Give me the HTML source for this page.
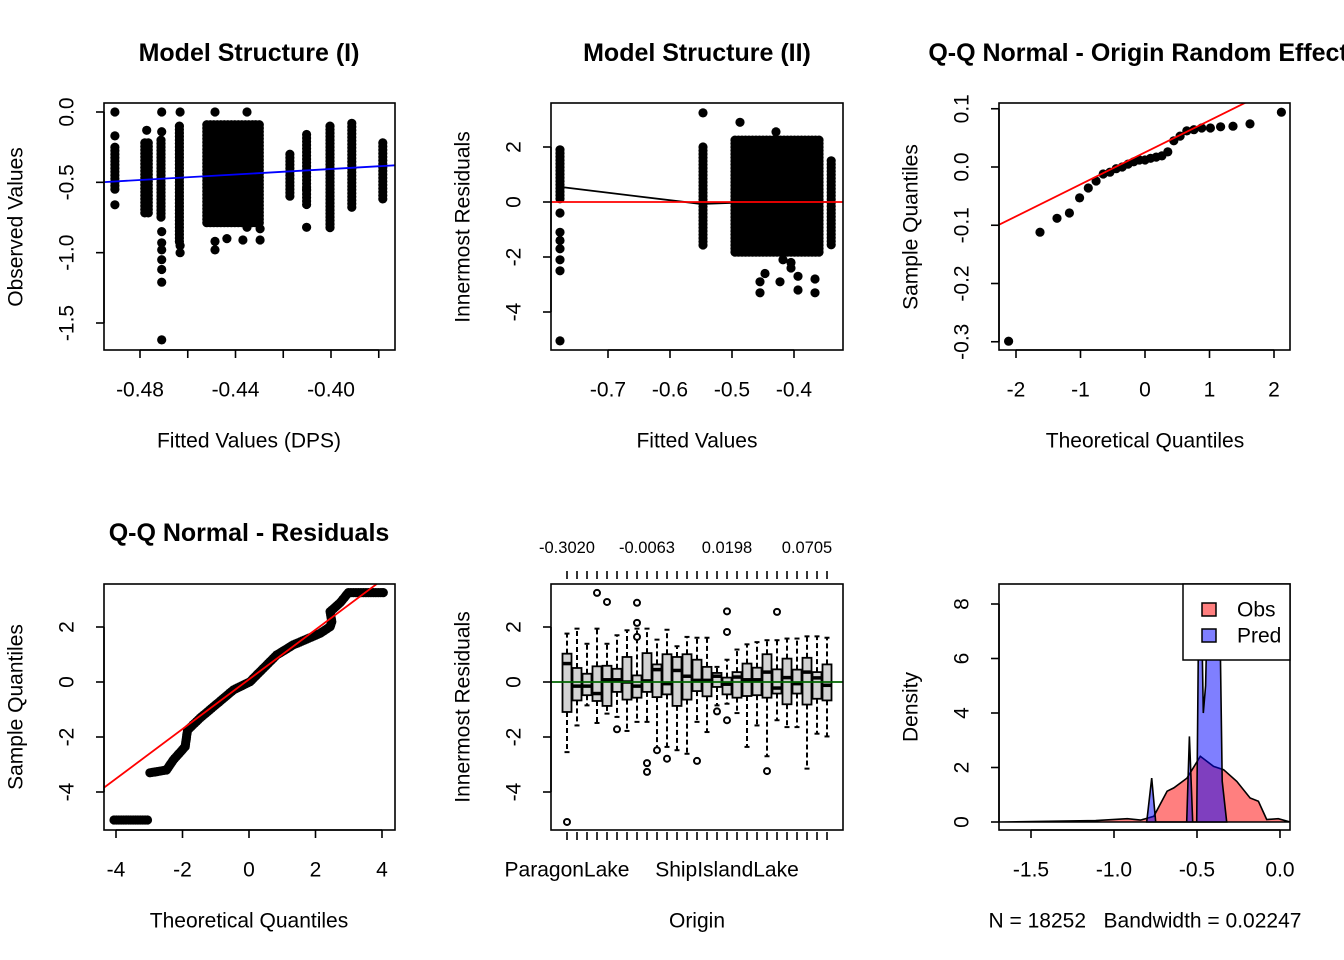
<!DOCTYPE html>
<html><head><meta charset="utf-8"><title>Model diagnostics</title>
<style>
html,body{margin:0;padding:0;background:#fff;}
svg{display:block;font-family:"Liberation Sans",Arial,sans-serif;}
text{fill:#000;}
</style></head>
<body>
<svg id="fig" width="1344" height="960" viewBox="0 0 1344 960" xmlns="http://www.w3.org/2000/svg">
<defs>
<clipPath id="c1"><rect x="104" y="103" width="291" height="247"/></clipPath>
<clipPath id="c2"><rect x="551" y="103" width="292" height="247"/></clipPath>
<clipPath id="c3"><rect x="999" y="103" width="291" height="247"/></clipPath>
<clipPath id="c4"><rect x="104" y="584" width="291" height="246"/></clipPath>
<clipPath id="c5"><rect x="551" y="584" width="292" height="246"/></clipPath>
<clipPath id="c6"><rect x="999" y="584" width="291" height="246"/></clipPath>
<clipPath id="cfig"><rect x="0" y="0" width="1344" height="960"/></clipPath>
</defs>
</svg>
<script>
// ---------- Panel 1 data: Observed vs fitted ----------
const p1ColXLo = [-0.4905,-0.4780,-0.4712,-0.4635,-0.4520,-0.4172,-0.4102,-0.4004,-0.3913,-0.3783];
const p1ColXHi = [-0.4905,-0.4765,-0.4706,-0.4628,-0.4287,-0.4172,-0.4102,-0.4004,-0.3913,-0.3783];
const p1ColYLo = [-0.55,-0.73,-0.77,-0.93,-0.79,-0.60,-0.67,-0.84,-0.70,-0.63];
const p1ColYHi = [-0.25,-0.22,-0.20,-0.10,-0.09,-0.30,-0.16,-0.10,-0.08,-0.22];
const p1OutX = [-0.4905,-0.4905,-0.4905,-0.4772,-0.4709,-0.4709,-0.4709,-0.4709,-0.4709,-0.4709,-0.4709,-0.4709,-0.4709,-0.4632,-0.4632,-0.4632,-0.4486,-0.4352,-0.4486,-0.4486,-0.4436,-0.4369,-0.4297,-0.4352,-0.4297,-0.4102,-0.4102];
const p1OutY = [0,-0.17,-0.66,-0.13,0,-0.14,-0.85,-0.93,-0.98,-1.05,-1.12,-1.21,-1.62,0,-1.0,-0.95,0,0,-0.98,-0.92,-0.90,-0.91,-0.91,-0.82,-0.83,-0.82,-0.55];
const p1Intercept = -0.0141, p1Slope = 0.978;
const p1XTicks = [-0.48,-0.46,-0.44,-0.42,-0.40,-0.38];
const p1XLabels = ["-0.48","","-0.44","","-0.40",""];
const p1YTicks = [0,-0.5,-1.0,-1.5];
const p1YLabels = ["0.0","-0.5","-1.0","-1.5"];

// ---------- Panel 2 data: residuals vs fitted ----------
const p2ColXLo = [-0.7774,-0.5468,-0.4952,-0.3400];
const p2ColXHi = [-0.7774,-0.5468,-0.3560,-0.3400];
const p2ColYLo = [0.07,-1.6,-1.85,-1.6];
const p2ColYHi = [1.9,2.0,2.25,1.5];
const p2OutX = [-0.7774,-0.7774,-0.7774,-0.7774,-0.7774,-0.7774,-0.7774,-0.5468,-0.4871,-0.4290,-0.4468,-0.4548,-0.4548,-0.4226,-0.3935,-0.3935,-0.3661,-0.3661,-0.4177,-0.4048,-0.4048];
const p2OutY = [-0.4,-1.1,-1.4,-1.7,-2.1,-2.5,-5.05,3.24,2.9,2.55,-2.6,-3.3,-2.9,-2.9,-3.2,-2.7,-3.3,-2.8,-2.1,-2.4,-2.2];
const p2LoessX = [-0.7774,-0.65,-0.55,-0.50,-0.45,-0.40,-0.34];
const p2LoessY = [0.55,0.20,-0.07,-0.03,-0.02,0.0,0.0];
const p2XTicks = [-0.7,-0.6,-0.5,-0.4];
const p2XLabels = ["-0.7","-0.6","-0.5","-0.4"];
const p2YTicks = [2,0,-2,-4];
const p2YLabels = ["2","0","-2","-4"];

// ---------- Panel 3 data: QQ of random effects ----------
const p3Sample = [-0.299,-0.112,-0.088,-0.079,-0.053,-0.036,-0.024,-0.012,-0.009,-0.003,0,0.005,0.009,0.012,0.012,0.015,0.017,0.019,0.026,0.045,0.053,0.062,0.064,0.067,0.067,0.069,0.070,0.074,0.094];
const p3XTicks = [-2,-1,0,1,2];
const p3XLabels = ["-2","-1","0","1","2"];
const p3YTicks = [0.1,0.0,-0.1,-0.2,-0.3];
const p3YLabels = ["0.1","0.0","-0.1","-0.2","-0.3"];

// ---------- Panel 4 data: QQ of residuals ----------
const p4TheoKnots = [-4.06,-2.98,-2.98,-2.48,-2.28,-1.92,-1.85,-1.47,-1.07,-0.47,0.03,0.83,1.33,2.14,2.44,2.49,2.44,2.74,2.99,4.04];
const p4SampKnots = [-5.02,-5.02,-3.30,-3.20,-2.84,-2.35,-1.75,-1.31,-0.90,-0.29,0.01,0.98,1.35,1.77,2.01,2.19,2.56,2.88,3.25,3.25];
const p4LineIntercept = 0.096, p4LineSlope = 0.903;
const p4XTicks = [-4,-2,0,2,4];
const p4XLabels = ["-4","-2","0","2","4"];
const p4YTicks = [2,0,-2,-4];
const p4YLabels = ["2","0","-2","-4"];

// ---------- Panel 5 data: boxplots by origin ----------
const p5WhiskHi = [1.76,1.94,1.39,1.94,1.39,1.70,1.88,1.94,1.94,1.54,1.90,1.30,1.64,1.61,1.61,0.55,0.81,1.18,1.37,1.45,1.52,1.52,1.58,1.58,1.66,1.66,1.61];
const p5Q3 = [1.03,0.51,0.30,0.57,0.59,0.48,0.91,0.24,1.05,0.64,1.01,0.91,1.01,0.81,0.55,0.33,0.16,0.36,0.67,0.52,1.01,0.46,0.85,0.45,0.88,0.36,0.64];
const p5Median = [0.67,-0.15,-0.15,-0.42,0.08,0.08,0.0,-0.15,0.04,0.45,-0.06,0.42,0.21,0.06,0.06,0.21,-0.08,0.18,0.08,0.08,0.36,-0.22,0.16,-0.06,0.36,0.15,-0.12];
const p5Q1 = [-1.09,-0.67,-0.48,-0.69,-0.87,-0.36,-0.64,-0.57,-0.36,-0.55,-0.45,-0.87,-0.64,-0.33,-0.52,-0.18,-0.45,-0.57,-0.51,-0.48,-0.57,-0.42,-0.81,-0.42,-0.82,-0.61,-0.67];
const p5WhiskLo = [-2.55,-1.58,-0.85,-1.49,-1.15,-1.27,-1.78,-1.45,-1.45,-2.42,-2.36,-2.48,-2.61,-1.45,-1.82,-0.85,-0.79,-1.13,-2.36,-1.58,-2.70,-1.39,-1.64,-1.64,-3.15,-1.88,-1.98];
const p5OutIdx = [0,3,4,5,7,7,7,8,8,9,10,13,15,16,16,16,20,21];
const p5OutVal = [-5.09,3.24,2.91,-1.72,2.88,2.15,1.64,-2.95,-3.27,-2.48,-2.79,-2.87,-1.07,2.57,1.82,-1.39,-3.24,2.55];
const p5TopLabelIdx = [0,8,16,24];
const p5TopLabels = ["-0.3020","-0.0063","0.0198","0.0705"];
const p5BottomLabelIdx = [0,16];
const p5BottomLabels = ["ParagonLake","ShipIslandLake"];
const p5YTicks = [2,0,-2,-4];
const p5YLabels = ["2","0","-2","-4"];

// ---------- Panel 6 data: densities ----------
const p6ObsX = [-1.69,-1.11,-0.92,-0.84,-0.76,-0.68,-0.64,-0.56,-0.48,-0.40,-0.34,-0.26,-0.18,-0.13,-0.08,-0.01,0.06];
const p6ObsY = [0,0.05,0.12,0.07,0.21,1.13,1.25,1.61,2.41,2.04,1.92,1.49,0.88,0.76,0.09,0.12,0];
const p6PredX = [-0.803,-0.773,-0.749,-0.562,-0.546,-0.526,-0.502,-0.488,-0.476,-0.462,-0.448,-0.432,-0.367,-0.348,-0.321];
const p6PredY = [0,1.61,0,0,3.14,0,0,9.0,9.0,4.0,5.0,9.5,9.5,1.5,0];
const p6XTicks = [-1.5,-1.0,-0.5,0.0];
const p6XLabels = ["-1.5","-1.0","-0.5","0.0"];
const p6YTicks = [0,2,4,6,8];
const p6YLabels = ["0","2","4","6","8"];

// ---------- helpers ----------
const NS = "http://www.w3.org/2000/svg";
const svg = document.getElementById('fig');
const FS = 21, FT = 25;
function mk(tag, attrs, parent){
  const e = document.createElementNS(NS, tag);
  for (const k in attrs) e.setAttribute(k, attrs[k]);
  (parent || svg).appendChild(e);
  return e;
}
function txt(parent, x, y, s, size, extra){
  const t = mk('text', Object.assign({x:x, y:y, 'font-size':size, 'text-anchor':'middle', 'dominant-baseline':'central'}, extra||{}), parent);
  t.textContent = s;
  return t;
}
function lin(v0, v1, p0, p1){ return v => p0 + (v - v0) * (p1 - p0) / (v1 - v0); }

function frame(g, x, y, w, h){
  const r = mk('rect', {x:x, y:y, width:w, height:h, fill:'none', stroke:'#000', 'stroke-width':1.6}, g);
  
  
}
function xAxis(g, ticks, labels, sx, yLine, labelY){
  const a = mk('g', {}, g);
  
  
  mk('line', {x1:sx(ticks[0]), x2:sx(ticks[ticks.length-1]), y1:yLine, y2:yLine, stroke:'#000','stroke-width':1.6}, a);
  ticks.forEach((t,i) => {
    const tk = mk('line', {x1:sx(t), x2:sx(t), y1:yLine, y2:yLine+8, stroke:'#000','stroke-width':1.6}, a);
    
    
    if (labels[i]) {
      const l = txt(a, sx(t), labelY, labels[i], FS);
      
      
    }
  });
}
function yAxis(g, ticks, labels, sy, xLine, labelX){
  const a = mk('g', {}, g);
  
  
  mk('line', {x1:xLine, x2:xLine, y1:sy(ticks[0]), y2:sy(ticks[ticks.length-1]), stroke:'#000','stroke-width':1.6}, a);
  ticks.forEach((t,i) => {
    const tk = mk('line', {x1:xLine-8, x2:xLine, y1:sy(t), y2:sy(t), stroke:'#000','stroke-width':1.6}, a);
    
    
    const l = txt(a, labelX, sy(t), labels[i], FS, {transform:'rotate(-90 '+labelX+' '+sy(t)+')'});
    
    
  });
}
function titles(g, cx, ty, title, xlab, xly, ylab, ylx, cy){
  if (title) {
    const t = txt(g, cx, ty, title, FT, {'font-weight':'bold'});
    
    
  }
  const xl = txt(g, cx, xly, xlab, FS);
  
  
  if (ylab) {
    const yl = txt(g, ylx, cy, ylab, FS, {transform:'rotate(-90 '+ylx+' '+cy+')'});
    
    
  }
}
function dot(g, x, y){
  const c = mk('circle', {cx:x.toFixed(1), cy:y.toFixed(1), r:4.6, fill:'#000'}, g);
  
  
}
function columns(g, xLo, xHi, yLo, yHi, sx, sy){
  for (let i = 0; i < xLo.length; i++){
    const x0 = sx(xLo[i]), x1 = sx(xHi[i]);
    const ya = sy(yHi[i]), yb = sy(yLo[i]);
    for (let x = x0; x <= x1 + 0.01; x += 3.5){
      for (let y = ya; y <= yb + 0.01; y += 3.5) dot(g, x, y);
      if (x1 - x0 < 0.5) break;
    }
  }
}

// ---------- Panel 1 ----------
(function(){
  const g = mk('g', {});
  
  
  const sx = lin(-0.48, -0.40, 140, 331), sy = lin(0, -1.5, 112, 323);
  const pts = mk('g', {'clip-path':'url(#c1)'}, g);
  
  
  columns(pts, p1ColXLo, p1ColXHi, p1ColYLo, p1ColYHi, sx, sy);
  p1OutX.forEach((x,i) => dot(pts, sx(x), sy(p1OutY[i])));
  const xa = -0.4968, xb = -0.3711;
  const ln = mk('line', {x1:sx(xa), y1:sy(p1Intercept + p1Slope*xa), x2:sx(xb), y2:sy(p1Intercept + p1Slope*xb), stroke:'#0000ff', 'stroke-width':1.8}, pts);
  
  
  frame(g, 104, 103, 291, 247);
  xAxis(g, p1XTicks, p1XLabels, sx, 350, 390);
  yAxis(g, p1YTicks, p1YLabels, sy, 104, 67);
  titles(g, 249, 53, 'Model Structure (I)', 'Fitted Values (DPS)', 441, 'Observed Values', 16, 227);
})();

// ---------- Panel 2 ----------
(function(){
  const g = mk('g', {});
  
  
  const sx = lin(-0.7, -0.4, 608, 794), sy = lin(0, 2, 202, 147);
  const pts = mk('g', {'clip-path':'url(#c2)'}, g);
  
  
  columns(pts, p2ColXLo, p2ColXHi, p2ColYLo, p2ColYHi, sx, sy);
  p2OutX.forEach((x,i) => dot(pts, sx(x), sy(p2OutY[i])));
  const lo = mk('polyline', {points:p2LoessX.map((x,i)=>sx(x)+','+sy(p2LoessY[i])).join(' '), fill:'none', stroke:'#000', 'stroke-width':1.8}, pts);
  
  
  const zl = mk('line', {x1:551, x2:843, y1:sy(0), y2:sy(0), stroke:'#ff0000', 'stroke-width':1.8}, pts);
  
  
  frame(g, 551, 103, 292, 247);
  xAxis(g, p2XTicks, p2XLabels, sx, 350, 390);
  yAxis(g, p2YTicks, p2YLabels, sy, 551, 514);
  titles(g, 697, 53, 'Model Structure (II)', 'Fitted Values', 441, 'Innermost Residuals', 463, 227);
})();

// inverse normal (Acklam)
function qnorm(p){
  const a=[-39.69683028665376,220.9460984245205,-275.9285104469687,138.3577518672690,-30.66479806614716,2.506628277459239];
  const b=[-54.47609879822406,161.5858368580409,-155.6989798598866,66.80131188771972,-13.28068155288572];
  const c=[-0.007784894002430293,-0.3223964580411365,-2.400758277161838,-2.549732539343734,4.374664141464968,2.938163982698783];
  const d=[0.007784695709041462,0.3224671290700398,2.445134137142996,3.754408661907416];
  let q,r;
  if (p < 0.02425){ q=Math.sqrt(-2*Math.log(p)); return (((((c[0]*q+c[1])*q+c[2])*q+c[3])*q+c[4])*q+c[5])/((((d[0]*q+d[1])*q+d[2])*q+d[3])*q+1); }
  if (p > 1-0.02425){ q=Math.sqrt(-2*Math.log(1-p)); return -(((((c[0]*q+c[1])*q+c[2])*q+c[3])*q+c[4])*q+c[5])/((((d[0]*q+d[1])*q+d[2])*q+d[3])*q+1); }
  q=p-0.5; r=q*q;
  return (((((a[0]*r+a[1])*r+a[2])*r+a[3])*r+a[4])*r+a[5])*q/(((((b[0]*r+b[1])*r+b[2])*r+b[3])*r+b[4])*r+1);
}

// ---------- Panel 3 ----------
(function(){
  const g = mk('g', {});
  
  
  const sx = lin(0, 1, 1145, 1209.5), sy = lin(0, 0.1, 167, 108.75);
  const pts = mk('g', {'clip-path':'url(#c3)'}, g);
  
  
  const s = p3Sample.slice().sort((a,b)=>a-b), n = s.length;
  s.forEach((v,i) => dot(pts, sx(qnorm((i+0.5)/n)), sy(v)));
  const qt = p => { const h = 1 + (n-1)*p, lo = Math.floor(h); return s[lo-1] + (h-lo)*((s[lo]||s[lo-1]) - s[lo-1]); };
  const y1 = qt(0.25), y2 = qt(0.75), x1 = qnorm(0.25), x2 = qnorm(0.75);
  const sl = (y2-y1)/(x2-x1), ic = y1 - sl*x1;
  const ql = mk('line', {x1:sx(-3), y1:sy(ic - 3*sl), x2:sx(3), y2:sy(ic + 3*sl), stroke:'#ff0000', 'stroke-width':1.8}, pts);
  
  
  frame(g, 999, 103, 291, 247);
  xAxis(g, p3XTicks, p3XLabels, sx, 350, 390);
  yAxis(g, p3YTicks, p3YLabels, sy, 999, 962);
  const tg = mk('g', {'clip-path':'url(#cfig)'}, g);
  titles(tg, 1145, 53, 'Q-Q Normal - Origin Random Effects', 'Theoretical Quantiles', 441, 'Sample Quantiles', 911, 227);
})();

// ---------- Panel 4 ----------
(function(){
  const g = mk('g', {});
  
  
  const sx = lin(0, 2, 249, 315.5), sy = lin(0, 2, 682, 627);
  const pts = mk('g', {'clip-path':'url(#c4)'}, g);
  
  
  for (let k = 0; k < p4TheoKnots.length - 1; k++){
    const xa = sx(p4TheoKnots[k]), ya = sy(p4SampKnots[k]);
    const xb = sx(p4TheoKnots[k+1]), yb = sy(p4SampKnots[k+1]);
    const len = Math.hypot(xb-xa, yb-ya);
    if (len > 25 && Math.abs(xb-xa) < 1) continue; // jump gap
    const steps = Math.max(1, Math.ceil(len/2.5));
    for (let j = 0; j < steps; j++) dot(pts, xa + (xb-xa)*j/steps, ya + (yb-ya)*j/steps);
  }
  dot(pts, sx(p4TheoKnots[p4TheoKnots.length-1]), sy(p4SampKnots[p4SampKnots.length-1]));
  const ql = mk('line', {x1:sx(-5), y1:sy(p4LineIntercept - 5*p4LineSlope), x2:sx(5), y2:sy(p4LineIntercept + 5*p4LineSlope), stroke:'#ff0000', 'stroke-width':1.8}, pts);
  
  
  frame(g, 104, 584, 291, 246);
  xAxis(g, p4XTicks, p4XLabels, sx, 830, 870);
  yAxis(g, p4YTicks, p4YLabels, sy, 104, 67);
  titles(g, 249, 533, 'Q-Q Normal - Residuals', 'Theoretical Quantiles', 921, 'Sample Quantiles', 16, 707);
})();

// ---------- Panel 5 ----------
(function(){
  const g = mk('g', {});
  
  
  const sx = i => 567 + i*10, sy = lin(0, 2, 682, 627);
  const bx = mk('g', {'clip-path':'url(#c5)'}, g);
  
  
  p5Median.forEach((m,i) => {
    const x = sx(i);
    const b = mk('g', {}, bx);
    
    
    mk('line', {x1:x, x2:x, y1:sy(p5Q3[i]), y2:sy(p5WhiskHi[i]), stroke:'#000','stroke-width':2,'stroke-dasharray':'5,3'}, b);
    mk('line', {x1:x, x2:x, y1:sy(p5Q1[i]), y2:sy(p5WhiskLo[i]), stroke:'#000','stroke-width':2,'stroke-dasharray':'5,3'}, b);
    mk('line', {x1:x-2.5, x2:x+2.5, y1:sy(p5WhiskHi[i]), y2:sy(p5WhiskHi[i]), stroke:'#000','stroke-width':2}, b);
    mk('line', {x1:x-2.5, x2:x+2.5, y1:sy(p5WhiskLo[i]), y2:sy(p5WhiskLo[i]), stroke:'#000','stroke-width':2}, b);
    mk('rect', {x:x-4.5, y:sy(p5Q3[i]), width:9, height:sy(p5Q1[i])-sy(p5Q3[i]), fill:'#d3d3d3', stroke:'#000','stroke-width':1.8}, b);
    mk('line', {x1:x-4.5, x2:x+4.5, y1:sy(m), y2:sy(m), stroke:'#000','stroke-width':3.5}, b);
  });
  p5OutIdx.forEach((idx,k) => {
    const o = mk('circle', {cx:sx(idx), cy:sy(p5OutVal[k]), r:3, fill:'#fff', stroke:'#000','stroke-width':2}, bx);
    
    
  });
  const zl = mk('line', {x1:551, x2:843, y1:sy(0), y2:sy(0), stroke:'#006400', 'stroke-width':1.8}, bx);
  
  
  frame(g, 551, 584, 292, 246);
  const ta = mk('g', {}, g);
  
  
  const ba = mk('g', {}, g);
  
  
  p5Median.forEach((m,i) => {
    mk('line', {x1:sx(i), x2:sx(i), y1:571, y2:579, stroke:'#000','stroke-width':1.6}, ta);
    mk('line', {x1:sx(i), x2:sx(i), y1:832, y2:840, stroke:'#000','stroke-width':1.6}, ba);
  });
  p5TopLabelIdx.forEach((idx,k) => {
    const l = txt(ta, sx(idx), 548, p5TopLabels[k], 16.5);
    
    
  });
  p5BottomLabelIdx.forEach((idx,k) => {
    const l = txt(ba, sx(idx), 870, p5BottomLabels[k], FS);
    
    
  });
  yAxis(g, p5YTicks, p5YLabels, sy, 551, 514);
  titles(g, 697, 0, '', 'Origin', 921, 'Innermost Residuals', 463, 707);
})();

// ---------- Panel 6 ----------
(function(){
  const g = mk('g', {});
  
  
  const sx = lin(0, -1.5, 1280, 1031), sy = lin(0, 8, 822, 604);
  const dg = mk('g', {'clip-path':'url(#c6)'}, g);
  
  
  const poly = (xs, ys) => xs.map((x,i)=>sx(x).toFixed(1)+','+sy(ys[i]).toFixed(1)).join(' ');
  const obs = mk('polygon', {points:poly(p6ObsX, p6ObsY), fill:'rgba(255,0,0,0.5)', stroke:'#000', 'stroke-width':1.6}, dg);
  
  
  const pred = mk('polygon', {points:poly(p6PredX, p6PredY), fill:'rgba(0,0,255,0.5)', stroke:'#000', 'stroke-width':1.6}, dg);
  
  
  frame(g, 999, 584, 291, 246);
  xAxis(g, p6XTicks, p6XLabels, sx, 830, 870);
  yAxis(g, p6YTicks, p6YLabels, sy, 999, 962);
  titles(g, 1145, 0, '', 'N = 18252\u00a0\u00a0\u00a0Bandwidth = 0.02247', 921, 'Density', 911, 707);
  const lg = mk('g', {}, g);
  
  
  mk('rect', {x:1183, y:584, width:107, height:76, fill:'#fff', stroke:'#000', 'stroke-width':1.5}, lg);
  const s1 = mk('rect', {x:1202, y:603, width:14, height:13, fill:'rgba(255,0,0,0.5)', stroke:'#000','stroke-width':1.5}, lg);
  
  
  const s2 = mk('rect', {x:1202, y:629, width:14, height:13, fill:'rgba(0,0,255,0.5)', stroke:'#000','stroke-width':1.5}, lg);
  
  
  const t1 = txt(lg, 1237, 610, 'Obs', FS, {'text-anchor':'start'});
  
  
  const t2 = txt(lg, 1237, 636, 'Pred', FS, {'text-anchor':'start'});
  
  
})();
</script>
</body></html>
